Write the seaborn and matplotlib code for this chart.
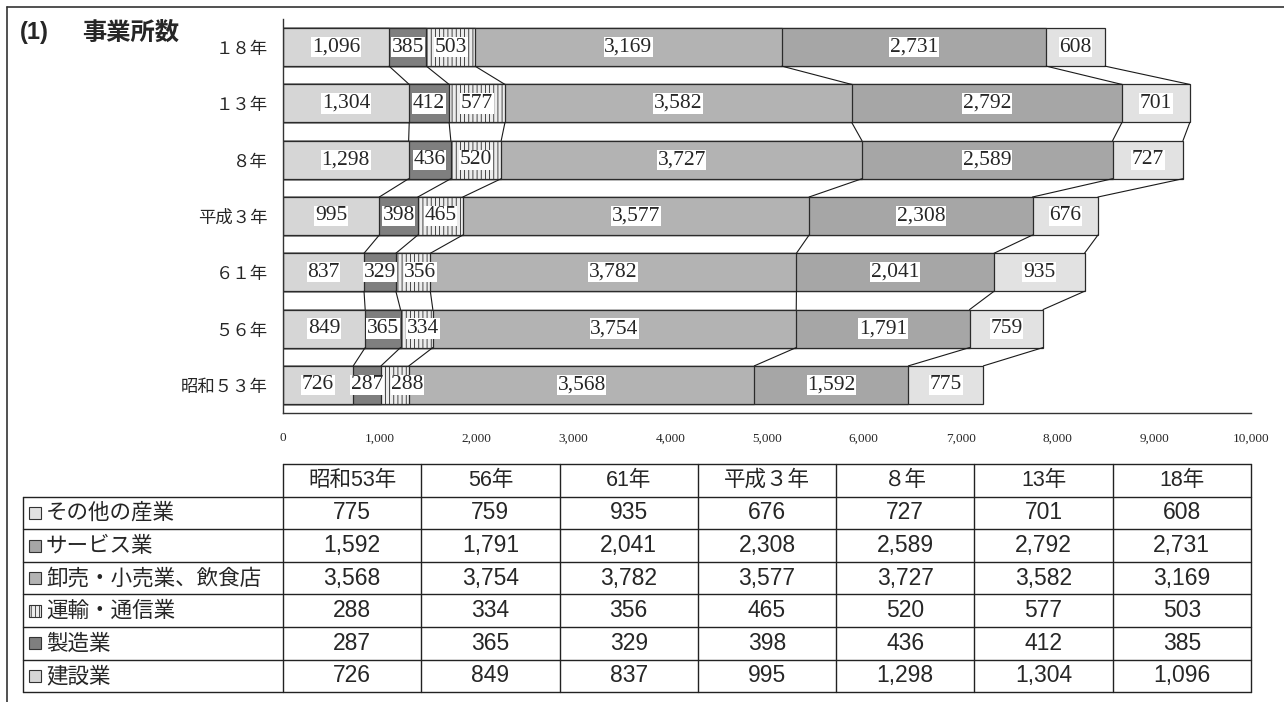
import numpy as np
import pandas as pd
import seaborn as sns
import matplotlib.pyplot as plt
from matplotlib.ticker import FuncFormatter

sns.set_style("white")
plt.rcParams['font.family'] = ['Noto Sans CJK JP', 'DejaVu Sans']
plt.rcParams['hatch.linewidth'] = 0.6
plt.rcParams['hatch.color'] = '#7f7f7f'

# data, oldest year first (same order as the table)
years_chart = ['昭和５３年', '５６年', '６１年', '平成３年', '８年', '１３年', '１８年']
years_table = ['昭和53年', '56年', '61年', '平成３年', '８年', '13年', '18年']
industries = ['建設業', '製造業', '運輸・通信業', '卸売・小売業、飲食店', 'サービス業', 'その他の産業']

kensetsu = [726, 849, 837, 995, 1298, 1304, 1096]
seizo = [287, 365, 329, 398, 436, 412, 385]
unyu = [288, 334, 356, 465, 520, 577, 503]
oroshi = [3568, 3754, 3782, 3577, 3727, 3582, 3169]
service = [1592, 1791, 2041, 2308, 2589, 2792, 2731]
sonota = [775, 759, 935, 676, 727, 701, 608]

colors = ['#d6d6d6', '#7f7f7f', '#ececec', '#b3b3b3', '#a6a6a6', '#e2e2e2']
hatches = [None, None, '||||', None, None, None]

series = [kensetsu, seizo, unyu, oroshi, service, sonota]
vals = np.array(series).T[::-1]          # rows: 18年 ... 昭和53年 (top to bottom)
order = years_chart[::-1]
cum = vals.cumsum(axis=1)
bar_h = 0.675
label_fs = 15.5

fig = plt.figure(figsize=(12.84, 7.02), dpi=100)
ax = fig.add_axes([283 / 1284, 1 - 413 / 702, (1251 - 283) / 1284, (413 - 19) / 702])

# stacked bars: draw cumulative totals from the longest down
for k in range(len(series) - 1, -1, -1):
    df = pd.DataFrame({'year': order, 'total': cum[:, k]})
    sns.barplot(data=df, x='total', y='year', order=order, orient='h',
                color=colors[k], saturation=1, width=bar_h,
                edgecolor='#2b2b2b', linewidth=0.9, hatch=hatches[k], ax=ax)

# series lines between neighbouring bars
for i in range(len(order) - 1):
    for k in range(len(series)):
        ax.plot([cum[i, k], cum[i + 1, k]], [i + bar_h / 2, i + 1 - bar_h / 2],
                color='#1a1a1a', lw=0.8, zorder=1)

# value labels (rough text width in data units, to push crowded labels apart)
units_per_px = 10000 / (1251 - 283)
def text_w(s):
    em = label_fs * 100 / 72
    return sum(0.25 if c == ',' else 0.5 for c in s) * em * units_per_px + 8 * units_per_px

for i in range(len(order)):
    prev_right = -1e9
    for k in range(len(series)):
        s = f'{vals[i, k]:,}'
        xc = cum[i, k] - vals[i, k] / 2
        w = text_w(s)
        if xc - w / 2 < prev_right:
            xc = prev_right + w / 2
        prev_right = xc + w / 2
        ax.text(xc, i, s, ha='center', va='center',
                family='Liberation Serif', fontsize=label_fs, zorder=5,
                bbox=dict(facecolor='white', edgecolor='none', pad=0.4))

ax.set_xlim(0, 10000)
ax.set_ylim(len(order) - 0.5, -0.5)
ax.set_xticks(range(0, 10001, 1000))
ax.xaxis.set_major_formatter(FuncFormatter(lambda v, p: f'{int(v):,}'))
ax.set_xlabel('')
ax.set_ylabel('')
for s in ['top', 'right']:
    ax.spines[s].set_visible(False)
for s in ['left', 'bottom']:
    ax.spines[s].set_color('#333333')
    ax.spines[s].set_linewidth(1.0)
ax.tick_params(axis='x', direction='in', length=4, width=0.8, color='#333333', pad=14)
ax.tick_params(axis='y', length=0, pad=11)
for t in ax.get_xticklabels():
    t.set_family('Liberation Serif')
    t.set_fontsize(9.5)
for t in ax.get_yticklabels():
    t.set_fontsize(12.5)

# overlay axes in pixel coordinates for frame, title and table
ov = fig.add_axes([0, 0, 1, 1], zorder=-1)
ov.set_xlim(0, 1284)
ov.set_ylim(702, 0)
ov.axis('off')
ov.plot([7, 7], [7, 702], color='#333333', lw=1.2)
ov.plot([7, 1284], [7, 7], color='#333333', lw=1.2)

ov.text(20, 33, '(1)', fontsize=17, fontweight='bold', family='Liberation Sans', va='center')
ov.text(82, 33, '事業所数', fontsize=17.5, fontweight='bold', va='center')

# table
col_x0, col_w = 283, (1251 - 283) / 7
head_top, row_h = 464, 32.6
first_row = head_top + row_h
n_rows = len(industries)
table_bottom = first_row + n_rows * row_h
lc, lw = '#222222', 1.0
ov.plot([col_x0, 1251], [head_top, head_top], color=lc, lw=lw)
for j in range(8):
    x = col_x0 + j * col_w
    ov.plot([x, x], [head_top, table_bottom], color=lc, lw=lw)
ov.plot([23, 23], [first_row, table_bottom], color=lc, lw=lw)
for r in range(n_rows + 1):
    y = first_row + r * row_h
    ov.plot([23, 1251], [y, y], color=lc, lw=lw)

for j, yr in enumerate(years_table):
    ov.text(col_x0 + (j + 0.5) * col_w, head_top + row_h / 2, yr, ha='center', va='center',
            fontsize=15.5, family=['Liberation Sans', 'Noto Sans CJK JP'])

for r, k in enumerate(range(len(series) - 1, -1, -1)):
    yc = first_row + (r + 0.5) * row_h
    ov.add_patch(plt.Rectangle((29, yc - 6), 12, 12, facecolor=colors[k],
                               edgecolor='#333333', lw=0.8, hatch=hatches[k]))
    ov.text(46, yc, industries[k], ha='left', va='center', fontsize=15.5)
    for j in range(7):
        ov.text(col_x0 + (j + 0.5) * col_w, yc, f'{series[k][j]:,}', ha='center', va='center',
                fontsize=16.5, family='Liberation Sans')

fig.savefig('out.png', dpi=100)
